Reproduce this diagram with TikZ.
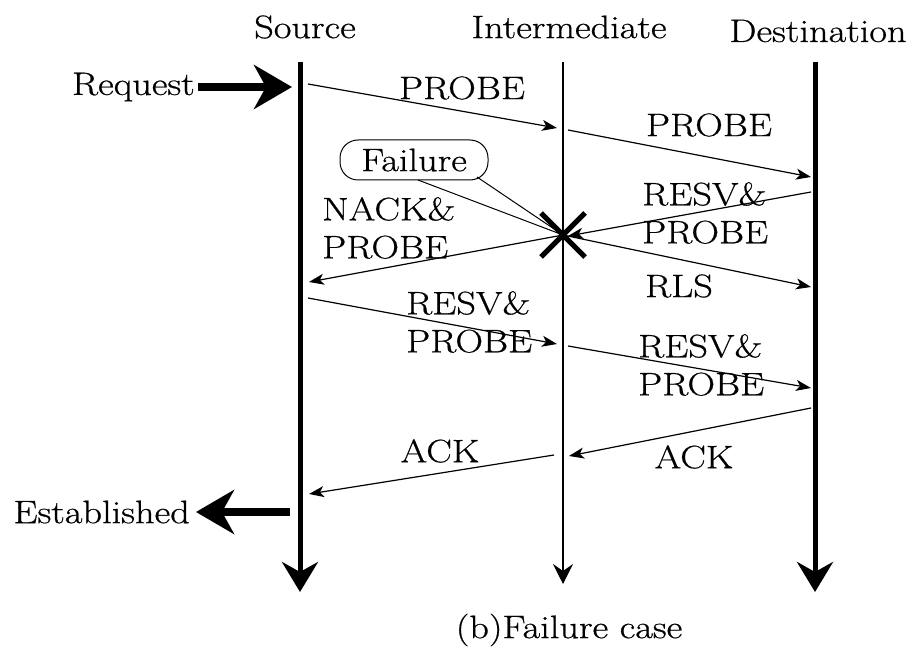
\documentclass[tikz,border=0pt]{standalone}
\usepackage{fontspec}
\setmainfont{Latin Modern Roman}[FakeStretch=1.18, FakeBold=0.6]
\usetikzlibrary{arrows.meta}
\begin{document}
\begin{tikzpicture}[x=1pt,y=-1pt,
  lbl/.style={font=\fontsize{32.5}{36}\selectfont, inner sep=0pt},
  lbl2/.style={lbl, align=left},
  life/.style={line width=5pt, -{Stealth[length=30pt,width=36pt,inset=10pt]}},
  lifethin/.style={line width=1.5pt, -{Stealth[length=20pt,width=20pt,inset=7pt]}},
  msg/.style={line width=1.2pt, -{Stealth[length=15pt,width=11pt,inset=4pt]}},
  bigarrow/.style={line width=8pt, -{Stealth[length=38pt,width=44pt,inset=12pt]}}]
  \useasboundingbox (0,0) rectangle (920,647);

  % column headings
  \node[lbl] (src) at (305,27) {Source};
  \node[lbl] (mid) at (569,27) {Intermediate};
  \node[lbl] (dst) at (818,31) {Destination};

  % lifelines
  \coordinate (s0) at (300,62);  \coordinate (s1) at (300,592);
  \coordinate (m0) at (563,62);  \coordinate (m1) at (563,584);
  \coordinate (d0) at (815,62);  \coordinate (d1) at (815,592);
  \draw[life] (s0) -- (s1);
  \draw[lifethin] (m0) -- (m1);
  \draw[life] (d0) -- (d1);

  % request / established
  \node[lbl, anchor=east] (req) at (195,87) {Request};
  \coordinate (reqend) at (292,87);
  \draw[bigarrow] (req.east) ++(3,0) coordinate (reqstart) -- (reqend);
  \node[lbl, anchor=east] (est) at (190,512) {Established};
  \coordinate (eststart) at (290,512);
  \draw[bigarrow] (eststart) -- ([xshift=6pt]est.east);

  % failure point
  \coordinate (x) at (563,235);
  \draw[line width=5pt] (541,213) -- (585,257) (585,213) -- (541,257);

  % messages
  \coordinate (a1) at (308,84);  \coordinate (b1) at (557,128);
  \coordinate (a2) at (568,130); \coordinate (b2) at (811,177);
  \coordinate (a3) at (811,192); \coordinate (b3) at (568,236);
  \coordinate (b4) at (309,282);
  \coordinate (b5) at (811,287);
  \coordinate (a6) at (308,298); \coordinate (b6) at (557,344);
  \coordinate (a7) at (568,346); \coordinate (b7) at (811,388);
  \coordinate (a8) at (811,408); \coordinate (b8) at (569,456);
  \coordinate (a9) at (554,455); \coordinate (b9) at (309,494);
  \draw[msg] (a1) -- (b1);
  \draw[msg] (a2) -- (b2);
  \draw[msg] (a3) -- (b3);
  \draw[msg] (x) -- (b4);
  \draw[msg] (x) -- (b5);
  \draw[msg] (a6) -- (b6);
  \draw[msg] (a7) -- (b7);
  \draw[msg] (a8) -- (b8);
  \draw[msg] (a9) -- (b9);

  % message labels
  \node[lbl] (l1) at (462,88) {PROBE};
  \node[lbl] (l2) at (709,125) {PROBE};
  \node[lbl2, anchor=west] (l3) at (642,213) {RESV\&\\[2pt]PROBE};
  \node[lbl2, anchor=west] (l4) at (322,228) {NACK\&\\[2pt]PROBE};
  \node[lbl] (l5) at (679,286) {RLS};
  \node[lbl2, anchor=west] (l6) at (406,322) {RESV\&\\[2pt]PROBE};
  \node[lbl2, anchor=west] (l7) at (638,365) {RESV\&\\[2pt]PROBE};
  \node[lbl] (l8) at (694,457) {ACK};
  \node[lbl] (l9) at (440,451) {ACK};

  % failure callout
  \node[lbl, draw, line width=1pt, rounded corners=18pt, minimum width=148pt,
        minimum height=40pt] (fail) at (414,160) {Failure};
  \draw[line width=1pt] (418,180) -- (x) -- (477,177);

  % caption
  \node[lbl] (cap) at (569,630) {(b)Failure case};
\end{tikzpicture}
\end{document}
